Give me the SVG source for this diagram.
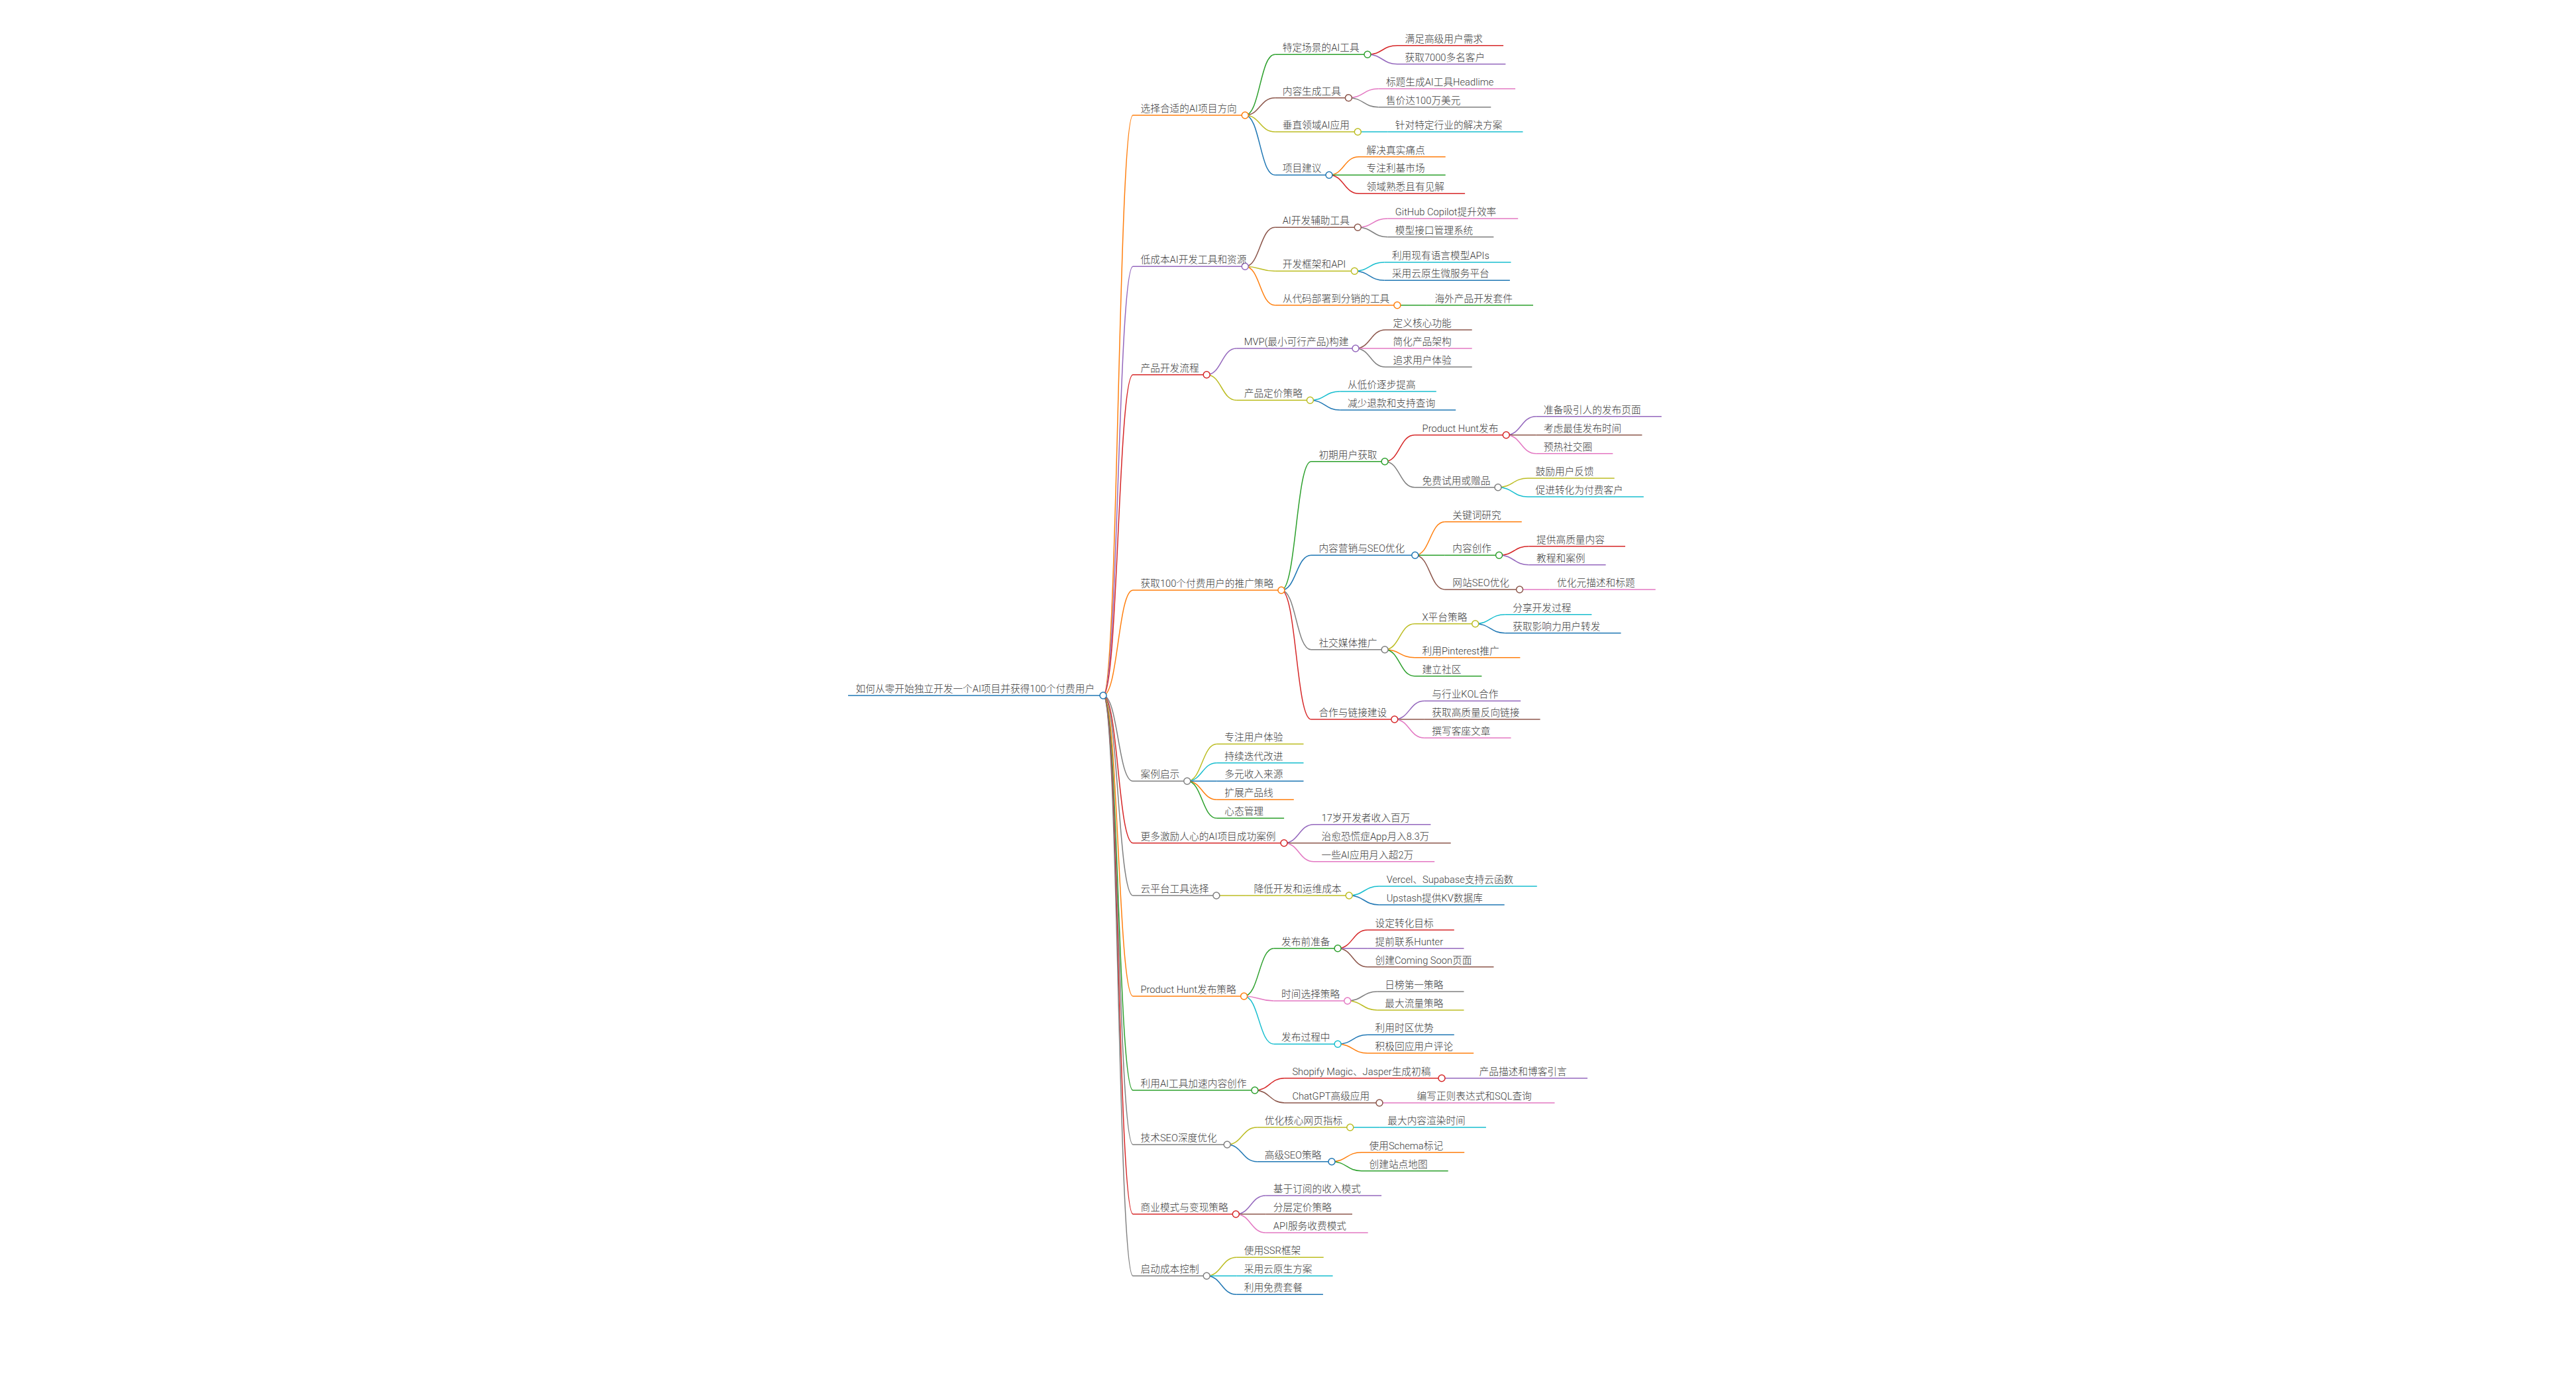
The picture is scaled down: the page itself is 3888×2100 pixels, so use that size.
<svg xmlns="http://www.w3.org/2000/svg" width="3888" height="2100" viewBox="0 0 3888 2100">
<style>
path,line{fill:none;stroke-width:1.5}
circle{fill:#fff;stroke-width:1.5}
text{font-family:"Roboto","Noto Sans CJK SC",sans-serif;font-size:14.7px;fill:#3c3c3c;font-weight:300}
.b{stroke:#1f77b4}.o{stroke:#ff7f0e}.g{stroke:#2ca02c}.r{stroke:#d62728}.p{stroke:#9467bd}
.br{stroke:#8c564b}.pk{stroke:#e377c2}.gy{stroke:#7f7f7f}.ol{stroke:#bcbd22}.c{stroke:#17becf}
</style>
<rect width="3888" height="2100" fill="#fff"/>
<g id="connectors">
<path class="o" d="M1665,1050C1687.5,1050 1687.5,174 1710,174"/>
<path class="p" d="M1665,1050C1687.5,1050 1687.5,402.3 1710,402.3"/>
<path class="r" d="M1665,1050C1687.5,1050 1687.5,565.7 1710,565.7"/>
<path class="o" d="M1665,1050C1687.5,1050 1687.5,891 1710,891"/>
<path class="gy" d="M1665,1050C1687.5,1050 1687.5,1179.3 1710,1179.3"/>
<path class="r" d="M1665,1050C1687.5,1050 1687.5,1272.7 1710,1272.7"/>
<path class="gy" d="M1665,1050C1687.5,1050 1687.5,1352 1710,1352"/>
<path class="o" d="M1665,1050C1687.5,1050 1687.5,1504 1710,1504"/>
<path class="g" d="M1665,1050C1687.5,1050 1687.5,1646 1710,1646"/>
<path class="gy" d="M1665,1050C1687.5,1050 1687.5,1728 1710,1728"/>
<path class="r" d="M1665,1050C1687.5,1050 1687.5,1833 1710,1833"/>
<path class="gy" d="M1665,1050C1687.5,1050 1687.5,1926.3 1710,1926.3"/>

<path class="g" d="M1879.2,174C1901.7,174 1901.7,82.3 1924.2,82.3"/>
<path class="br" d="M1879.2,174C1901.7,174 1901.7,147.7 1924.2,147.7"/>
<path class="ol" d="M1879.2,174C1901.7,174 1901.7,199 1924.2,199"/>
<path class="b" d="M1879.2,174C1901.7,174 1901.7,264.3 1924.2,264.3"/>
<path class="r" d="M2064,82.3C2086.5,82.3 2086.5,68.7 2109,68.7"/>
<path class="p" d="M2064,82.3C2086.5,82.3 2086.5,96.7 2109,96.7"/>
<path class="pk" d="M2035.4,147.7C2057.9,147.7 2057.9,134 2080.4,134"/>
<path class="gy" d="M2035.4,147.7C2057.9,147.7 2057.9,161.7 2080.4,161.7"/>
<path class="c" d="M2049.3,199L2094.3,199"/>
<path class="o" d="M2006,264.3C2028.5,264.3 2028.5,236.7 2051,236.7"/>
<path class="g" d="M2006,264.3L2051,264.3"/>
<path class="r" d="M2006,264.3C2028.5,264.3 2028.5,292.3 2051,292.3"/>

<path class="br" d="M1879.2,402.3C1901.7,402.3 1901.7,343.3 1924.2,343.3"/>
<path class="ol" d="M1879.2,402.3C1901.7,402.3 1901.7,409.3 1924.2,409.3"/>
<path class="o" d="M1879.2,402.3C1901.7,402.3 1901.7,460.7 1924.2,460.7"/>
<path class="pk" d="M2049.3,343.3C2071.8,343.3 2071.8,330 2094.3,330"/>
<path class="gy" d="M2049.3,343.3C2071.8,343.3 2071.8,357.7 2094.3,357.7"/>
<path class="c" d="M2044.4,409.3C2066.9,409.3 2066.9,396 2089.4,396"/>
<path class="b" d="M2044.4,409.3C2066.9,409.3 2066.9,423.3 2089.4,423.3"/>
<path class="g" d="M2108.9,460.7L2153.9,460.7"/>

<path class="p" d="M1821.2,565.7C1843.7,565.7 1843.7,526 1866.2,526"/>
<path class="ol" d="M1821.2,565.7C1843.7,565.7 1843.7,604.3 1866.2,604.3"/>
<path class="br" d="M2046,526C2068.5,526 2068.5,498 2091,498"/>
<path class="pk" d="M2046,526L2091,526"/>
<path class="gy" d="M2046,526C2068.5,526 2068.5,554 2091,554"/>
<path class="c" d="M1977.4,604.3C1999.9,604.3 1999.9,591 2022.4,591"/>
<path class="b" d="M1977.4,604.3C1999.9,604.3 1999.9,619 2022.4,619"/>

<path class="g" d="M1933.9,891C1956.4,891 1956.4,696.7 1978.9,696.7"/>
<path class="b" d="M1933.9,891C1956.4,891 1956.4,838.3 1978.9,838.3"/>
<path class="gy" d="M1933.9,891C1956.4,891 1956.4,980.7 1978.9,980.7"/>
<path class="r" d="M1933.9,891C1956.4,891 1956.4,1086 1978.9,1086"/>
<path class="r" d="M2090.1,696.7C2112.6,696.7 2112.6,656.7 2135.1,656.7"/>
<path class="gy" d="M2090.1,696.7C2112.6,696.7 2112.6,735.7 2135.1,735.7"/>
<path class="p" d="M2273.3,656.7C2295.8,656.7 2295.8,628.7 2318.3,628.7"/>
<path class="br" d="M2273.3,656.7L2318.3,656.7"/>
<path class="pk" d="M2273.3,656.7C2295.8,656.7 2295.8,684.7 2318.3,684.7"/>
<path class="ol" d="M2261,735.7C2283.5,735.7 2283.5,722 2306,722"/>
<path class="c" d="M2261,735.7C2283.5,735.7 2283.5,750 2306,750"/>
<path class="o" d="M2135.8,838.3C2158.3,838.3 2158.3,787.7 2180.8,787.7"/>
<path class="g" d="M2135.8,838.3L2180.8,838.3"/>
<path class="br" d="M2135.8,838.3C2158.3,838.3 2158.3,890 2180.8,890"/>
<path class="r" d="M2262.6,838.3C2285.1,838.3 2285.1,824.7 2307.6,824.7"/>
<path class="p" d="M2262.6,838.3C2285.1,838.3 2285.1,852.7 2307.6,852.7"/>
<path class="pk" d="M2293.6,890L2338.6,890"/>
<path class="ol" d="M2090.1,980.7C2112.6,980.7 2112.6,941.7 2135.1,941.7"/>
<path class="o" d="M2090.1,980.7C2112.6,980.7 2112.6,992.7 2135.1,992.7"/>
<path class="g" d="M2090.1,980.7C2112.6,980.7 2112.6,1020.7 2135.1,1020.7"/>
<path class="c" d="M2226.7,941.7C2249.2,941.7 2249.2,927.7 2271.7,927.7"/>
<path class="b" d="M2226.7,941.7C2249.2,941.7 2249.2,955.7 2271.7,955.7"/>
<path class="p" d="M2104.8,1086C2127.3,1086 2127.3,1058.3 2149.8,1058.3"/>
<path class="br" d="M2104.8,1086L2149.8,1086"/>
<path class="pk" d="M2104.8,1086C2127.3,1086 2127.3,1114 2149.8,1114"/>

<path class="ol" d="M1791.8,1179.3C1814.3,1179.3 1814.3,1123.3 1836.8,1123.3"/>
<path class="c" d="M1791.8,1179.3C1814.3,1179.3 1814.3,1151.7 1836.8,1151.7"/>
<path class="b" d="M1791.8,1179.3L1836.8,1179.3"/>
<path class="o" d="M1791.8,1179.3C1814.3,1179.3 1814.3,1207.3 1836.8,1207.3"/>
<path class="g" d="M1791.8,1179.3C1814.3,1179.3 1814.3,1235.3 1836.8,1235.3"/>

<path class="p" d="M1938,1272.7C1960.5,1272.7 1960.5,1244.7 1983,1244.7"/>
<path class="br" d="M1938,1272.7L1983,1272.7"/>
<path class="pk" d="M1938,1272.7C1960.5,1272.7 1960.5,1300.7 1983,1300.7"/>

<path class="ol" d="M1835.9,1352L1880.9,1352"/>
<path class="c" d="M2036.2,1352C2058.7,1352 2058.7,1338 2081.2,1338"/>
<path class="b" d="M2036.2,1352C2058.7,1352 2058.7,1366 2081.2,1366"/>

<path class="g" d="M1877.6,1504C1900.1,1504 1900.1,1431.7 1922.6,1431.7"/>
<path class="pk" d="M1877.6,1504C1900.1,1504 1900.1,1511 1922.6,1511"/>
<path class="c" d="M1877.6,1504C1900.1,1504 1900.1,1576.3 1922.6,1576.3"/>
<path class="r" d="M2019.1,1431.7C2041.6,1431.7 2041.6,1404 2064.1,1404"/>
<path class="p" d="M2019.1,1431.7L2064.1,1431.7"/>
<path class="br" d="M2019.1,1431.7C2041.6,1431.7 2041.6,1459.7 2064.1,1459.7"/>
<path class="gy" d="M2033.8,1511C2056.3,1511 2056.3,1497 2078.8,1497"/>
<path class="ol" d="M2033.8,1511C2056.3,1511 2056.3,1525 2078.8,1525"/>
<path class="b" d="M2019.1,1576.3C2041.6,1576.3 2041.6,1562.3 2064.1,1562.3"/>
<path class="o" d="M2019.1,1576.3C2041.6,1576.3 2041.6,1590 2064.1,1590"/>

<path class="r" d="M1893.9,1646C1916.4,1646 1916.4,1627.7 1938.9,1627.7"/>
<path class="br" d="M1893.9,1646C1916.4,1646 1916.4,1665 1938.9,1665"/>
<path class="p" d="M2176,1627.7L2221,1627.7"/>
<path class="pk" d="M2082,1665L2127,1665"/>

<path class="ol" d="M1852.2,1728C1874.7,1728 1874.7,1702 1897.2,1702"/>
<path class="b" d="M1852.2,1728C1874.7,1728 1874.7,1753.7 1897.2,1753.7"/>
<path class="c" d="M2037.8,1702L2082.8,1702"/>
<path class="o" d="M2010,1753.7C2032.5,1753.7 2032.5,1739.7 2055,1739.7"/>
<path class="g" d="M2010,1753.7C2032.5,1753.7 2032.5,1767.7 2055,1767.7"/>

<path class="p" d="M1865.3,1833C1887.8,1833 1887.8,1805 1910.3,1805"/>
<path class="br" d="M1865.3,1833L1910.3,1833"/>
<path class="pk" d="M1865.3,1833C1887.8,1833 1887.8,1861 1910.3,1861"/>

<path class="ol" d="M1821.2,1926.3C1843.7,1926.3 1843.7,1898.3 1866.2,1898.3"/>
<path class="c" d="M1821.2,1926.3L1866.2,1926.3"/>
<path class="b" d="M1821.2,1926.3C1843.7,1926.3 1843.7,1954.3 1866.2,1954.3"/>
</g>

<g id="root"><line class="b" x1="1280" y1="1050" x2="1665" y2="1050"/><circle class="b" cx="1665" cy="1050" r="5"/><text x="1291.5" y="1045">如何从零开始独立开发一个AI项目并获得100个付费用户</text></g>

<g id="n1"><line class="o" x1="1710" y1="174" x2="1879.2" y2="174"/><circle class="o" cx="1879.2" cy="174" r="5"/><text x="1721.5" y="169">选择合适的AI项目方向</text></g>
<g id="n1a"><line class="g" x1="1924.2" y1="82.3" x2="2064" y2="82.3"/><circle class="g" cx="2064" cy="82.3" r="5"/><text x="1935.7" y="77.3">特定场景的AI工具</text></g>
<g id="n1a1"><line class="r" x1="2109" y1="68.7" x2="2269.1" y2="68.7"/><text x="2120.5" y="63.7">满足高级用户需求</text></g>
<g id="n1a2"><line class="p" x1="2109" y1="96.7" x2="2272.4" y2="96.7"/><text x="2120.5" y="91.7">获取7000多名客户</text></g>
<g id="n1b"><line class="br" x1="1924.2" y1="147.7" x2="2035.4" y2="147.7"/><circle class="br" cx="2035.4" cy="147.7" r="5"/><text x="1935.7" y="142.7">内容生成工具</text></g>
<g id="n1b1"><line class="pk" x1="2080.4" y1="134" x2="2287.1" y2="134"/><text x="2091.9" y="129">标题生成AI工具Headlime</text></g>
<g id="n1b2"><line class="gy" x1="2080.4" y1="161.7" x2="2250.3" y2="161.7"/><text x="2091.9" y="156.7">售价达100万美元</text></g>
<g id="n1c"><line class="ol" x1="1924.2" y1="199" x2="2049.3" y2="199"/><circle class="ol" cx="2049.3" cy="199" r="5"/><text x="1935.7" y="194">垂直领域AI应用</text></g>
<g id="n1c1"><line class="c" x1="2094.3" y1="199" x2="2298.5" y2="199"/><text x="2105.8" y="194">针对特定行业的解决方案</text></g>
<g id="n1d"><line class="b" x1="1924.2" y1="264.3" x2="2006" y2="264.3"/><circle class="b" cx="2006" cy="264.3" r="5"/><text x="1935.7" y="259.3">项目建议</text></g>
<g id="n1d1"><line class="o" x1="2051" y1="236.7" x2="2181.7" y2="236.7"/><text x="2062.5" y="231.7">解决真实痛点</text></g>
<g id="n1d2"><line class="g" x1="2051" y1="264.3" x2="2181.7" y2="264.3"/><text x="2062.5" y="259.3">专注利基市场</text></g>
<g id="n1d3"><line class="r" x1="2051" y1="292.3" x2="2211.1" y2="292.3"/><text x="2062.5" y="287.3">领域熟悉且有见解</text></g>

<g id="n2"><line class="p" x1="1710" y1="402.3" x2="1879.2" y2="402.3"/><circle class="p" cx="1879.2" cy="402.3" r="5"/><text x="1721.5" y="397.3">低成本AI开发工具和资源</text></g>
<g id="n2a"><line class="br" x1="1924.2" y1="343.3" x2="2049.3" y2="343.3"/><circle class="br" cx="2049.3" cy="343.3" r="5"/><text x="1935.7" y="338.3">AI开发辅助工具</text></g>
<g id="n2a1"><line class="pk" x1="2094.3" y1="330" x2="2291.2" y2="330"/><text x="2105.8" y="325">GitHub Copilot提升效率</text></g>
<g id="n2a2"><line class="gy" x1="2094.3" y1="357.7" x2="2254.4" y2="357.7"/><text x="2105.8" y="352.7">模型接口管理系统</text></g>
<g id="n2b"><line class="ol" x1="1924.2" y1="409.3" x2="2044.4" y2="409.3"/><circle class="ol" cx="2044.4" cy="409.3" r="5"/><text x="1935.7" y="404.3">开发框架和API</text></g>
<g id="n2b1"><line class="c" x1="2089.4" y1="396" x2="2280.5" y2="396"/><text x="2100.9" y="391">利用现有语言模型APIs</text></g>
<g id="n2b2"><line class="b" x1="2089.4" y1="423.3" x2="2278.9" y2="423.3"/><text x="2100.9" y="418.3">采用云原生微服务平台</text></g>
<g id="n2c"><line class="o" x1="1924.2" y1="460.7" x2="2108.9" y2="460.7"/><circle class="o" cx="2108.9" cy="460.7" r="5"/><text x="1935.7" y="455.7">从代码部署到分销的工具</text></g>
<g id="n2c1"><line class="g" x1="2153.9" y1="460.7" x2="2314" y2="460.7"/><text x="2165.4" y="455.7">海外产品开发套件</text></g>

<g id="n3"><line class="r" x1="1710" y1="565.7" x2="1821.2" y2="565.7"/><circle class="r" cx="1821.2" cy="565.7" r="5"/><text x="1721.5" y="560.7">产品开发流程</text></g>
<g id="n3a"><line class="p" x1="1866.2" y1="526" x2="2046" y2="526"/><circle class="p" cx="2046" cy="526" r="5"/><text x="1877.7" y="521">MVP(最小可行产品)构建</text></g>
<g id="n3a1"><line class="br" x1="2091" y1="498" x2="2221.7" y2="498"/><text x="2102.5" y="493">定义核心功能</text></g>
<g id="n3a2"><line class="pk" x1="2091" y1="526" x2="2221.7" y2="526"/><text x="2102.5" y="521">简化产品架构</text></g>
<g id="n3a3"><line class="gy" x1="2091" y1="554" x2="2221.7" y2="554"/><text x="2102.5" y="549">追求用户体验</text></g>
<g id="n3b"><line class="ol" x1="1866.2" y1="604.3" x2="1977.4" y2="604.3"/><circle class="ol" cx="1977.4" cy="604.3" r="5"/><text x="1877.7" y="599.3">产品定价策略</text></g>
<g id="n3b1"><line class="c" x1="2022.4" y1="591" x2="2167.8" y2="591"/><text x="2033.9" y="586">从低价逐步提高</text></g>
<g id="n3b2"><line class="b" x1="2022.4" y1="619" x2="2197.2" y2="619"/><text x="2033.9" y="614">减少退款和支持查询</text></g>

<g id="n4"><line class="o" x1="1710" y1="891" x2="1933.9" y2="891"/><circle class="o" cx="1933.9" cy="891" r="5"/><text x="1721.5" y="886">获取100个付费用户的推广策略</text></g>
<g id="n4a"><line class="g" x1="1978.9" y1="696.7" x2="2090.1" y2="696.7"/><circle class="g" cx="2090.1" cy="696.7" r="5"/><text x="1990.4" y="691.7">初期用户获取</text></g>
<g id="n4a1"><line class="r" x1="2135.1" y1="656.7" x2="2273.3" y2="656.7"/><circle class="r" cx="2273.3" cy="656.7" r="5"/><text x="2146.6" y="651.7">Product Hunt发布</text></g>
<g id="n4a1a"><line class="p" x1="2318.3" y1="628.7" x2="2507.8" y2="628.7"/><text x="2329.8" y="623.7">准备吸引人的发布页面</text></g>
<g id="n4a1b"><line class="br" x1="2318.3" y1="656.7" x2="2478.4" y2="656.7"/><text x="2329.8" y="651.7">考虑最佳发布时间</text></g>
<g id="n4a1c"><line class="pk" x1="2318.3" y1="684.7" x2="2434.3" y2="684.7"/><text x="2329.8" y="679.7">预热社交圈</text></g>
<g id="n4a2"><line class="gy" x1="2135.1" y1="735.7" x2="2261" y2="735.7"/><circle class="gy" cx="2261" cy="735.7" r="5"/><text x="2146.6" y="730.7">免费试用或赠品</text></g>
<g id="n4a2a"><line class="ol" x1="2306" y1="722" x2="2436.7" y2="722"/><text x="2317.5" y="717">鼓励用户反馈</text></g>
<g id="n4a2b"><line class="c" x1="2306" y1="750" x2="2480.8" y2="750"/><text x="2317.5" y="745">促进转化为付费客户</text></g>
<g id="n4b"><line class="b" x1="1978.9" y1="838.3" x2="2135.8" y2="838.3"/><circle class="b" cx="2135.8" cy="838.3" r="5"/><text x="1990.4" y="833.3">内容营销与SEO优化</text></g>
<g id="n4b1"><line class="o" x1="2180.8" y1="787.7" x2="2296.8" y2="787.7"/><text x="2192.3" y="782.7">关键词研究</text></g>
<g id="n4b2"><line class="g" x1="2180.8" y1="838.3" x2="2262.6" y2="838.3"/><circle class="g" cx="2262.6" cy="838.3" r="5"/><text x="2192.3" y="833.3">内容创作</text></g>
<g id="n4b2a"><line class="r" x1="2307.6" y1="824.7" x2="2453" y2="824.7"/><text x="2319.1" y="819.7">提供高质量内容</text></g>
<g id="n4b2b"><line class="p" x1="2307.6" y1="852.7" x2="2423.6" y2="852.7"/><text x="2319.1" y="847.7">教程和案例</text></g>
<g id="n4b3"><line class="br" x1="2180.8" y1="890" x2="2293.6" y2="890"/><circle class="br" cx="2293.6" cy="890" r="5"/><text x="2192.3" y="885">网站SEO优化</text></g>
<g id="n4b3a"><line class="pk" x1="2338.6" y1="890" x2="2498.7" y2="890"/><text x="2350.1" y="885">优化元描述和标题</text></g>
<g id="n4c"><line class="gy" x1="1978.9" y1="980.7" x2="2090.1" y2="980.7"/><circle class="gy" cx="2090.1" cy="980.7" r="5"/><text x="1990.4" y="975.7">社交媒体推广</text></g>
<g id="n4c1"><line class="ol" x1="2135.1" y1="941.7" x2="2226.7" y2="941.7"/><circle class="ol" cx="2226.7" cy="941.7" r="5"/><text x="2146.6" y="936.7">X平台策略</text></g>
<g id="n4c1a"><line class="c" x1="2271.7" y1="927.7" x2="2402.4" y2="927.7"/><text x="2283.2" y="922.7">分享开发过程</text></g>
<g id="n4c1b"><line class="b" x1="2271.7" y1="955.7" x2="2446.5" y2="955.7"/><text x="2283.2" y="950.7">获取影响力用户转发</text></g>
<g id="n4c2"><line class="o" x1="2135.1" y1="992.7" x2="2294.4" y2="992.7"/><text x="2146.6" y="987.7">利用Pinterest推广</text></g>
<g id="n4c3"><line class="g" x1="2135.1" y1="1020.7" x2="2236.4" y2="1020.7"/><text x="2146.6" y="1015.7">建立社区</text></g>
<g id="n4d"><line class="r" x1="1978.9" y1="1086" x2="2104.8" y2="1086"/><circle class="r" cx="2104.8" cy="1086" r="5"/><text x="1990.4" y="1081">合作与链接建设</text></g>
<g id="n4d1"><line class="p" x1="2149.8" y1="1058.3" x2="2295.2" y2="1058.3"/><text x="2161.3" y="1053.3">与行业KOL合作</text></g>
<g id="n4d2"><line class="br" x1="2149.8" y1="1086" x2="2324.6" y2="1086"/><text x="2161.3" y="1081">获取高质量反向链接</text></g>
<g id="n4d3"><line class="pk" x1="2149.8" y1="1114" x2="2280.5" y2="1114"/><text x="2161.3" y="1109">撰写客座文章</text></g>

<g id="n5"><line class="gy" x1="1710" y1="1179.3" x2="1791.8" y2="1179.3"/><circle class="gy" cx="1791.8" cy="1179.3" r="5"/><text x="1721.5" y="1174.3">案例启示</text></g>
<g id="n5a"><line class="ol" x1="1836.8" y1="1123.3" x2="1967.5" y2="1123.3"/><text x="1848.3" y="1118.3">专注用户体验</text></g>
<g id="n5b"><line class="c" x1="1836.8" y1="1151.7" x2="1967.5" y2="1151.7"/><text x="1848.3" y="1146.7">持续迭代改进</text></g>
<g id="n5c"><line class="b" x1="1836.8" y1="1179.3" x2="1967.5" y2="1179.3"/><text x="1848.3" y="1174.3">多元收入来源</text></g>
<g id="n5d"><line class="o" x1="1836.8" y1="1207.3" x2="1952.8" y2="1207.3"/><text x="1848.3" y="1202.3">扩展产品线</text></g>
<g id="n5e"><line class="g" x1="1836.8" y1="1235.3" x2="1938.1" y2="1235.3"/><text x="1848.3" y="1230.3">心态管理</text></g>

<g id="n6"><line class="r" x1="1710" y1="1272.7" x2="1938" y2="1272.7"/><circle class="r" cx="1938" cy="1272.7" r="5"/><text x="1721.5" y="1267.7">更多激励人心的AI项目成功案例</text></g>
<g id="n6a"><line class="p" x1="1983" y1="1244.7" x2="2159.4" y2="1244.7"/><text x="1994.5" y="1239.7">17岁开发者收入百万</text></g>
<g id="n6b"><line class="br" x1="1983" y1="1272.7" x2="2189.7" y2="1272.7"/><text x="1994.5" y="1267.7">治愈恐慌症App月入8.3万</text></g>
<g id="n6c"><line class="pk" x1="1983" y1="1300.7" x2="2165.2" y2="1300.7"/><text x="1994.5" y="1295.7">一些AI应用月入超2万</text></g>

<g id="n7"><line class="gy" x1="1710" y1="1352" x2="1835.9" y2="1352"/><circle class="gy" cx="1835.9" cy="1352" r="5"/><text x="1721.5" y="1347">云平台工具选择</text></g>
<g id="n7a"><line class="ol" x1="1880.9" y1="1352" x2="2036.2" y2="1352"/><circle class="ol" cx="2036.2" cy="1352" r="5"/><text x="1892.4" y="1347">降低开发和运维成本</text></g>
<g id="n7a1"><line class="c" x1="2081.2" y1="1338" x2="2319.8" y2="1338"/><text x="2092.7" y="1333">Vercel、Supabase支持云函数</text></g>
<g id="n7a2"><line class="b" x1="2081.2" y1="1366" x2="2270.7" y2="1366"/><text x="2092.7" y="1361">Upstash提供KV数据库</text></g>

<g id="n8"><line class="o" x1="1710" y1="1504" x2="1877.6" y2="1504"/><circle class="o" cx="1877.6" cy="1504" r="5"/><text x="1721.5" y="1499">Product Hunt发布策略</text></g>
<g id="n8a"><line class="g" x1="1922.6" y1="1431.7" x2="2019.1" y2="1431.7"/><circle class="g" cx="2019.1" cy="1431.7" r="5"/><text x="1934.1" y="1426.7">发布前准备</text></g>
<g id="n8a1"><line class="r" x1="2064.1" y1="1404" x2="2194.8" y2="1404"/><text x="2075.6" y="1399">设定转化目标</text></g>
<g id="n8a2"><line class="p" x1="2064.1" y1="1431.7" x2="2209.5" y2="1431.7"/><text x="2075.6" y="1426.7">提前联系Hunter</text></g>
<g id="n8a3"><line class="br" x1="2064.1" y1="1459.7" x2="2254.5" y2="1459.7"/><text x="2075.6" y="1454.7">创建Coming Soon页面</text></g>
<g id="n8b"><line class="pk" x1="1922.6" y1="1511" x2="2033.8" y2="1511"/><circle class="pk" cx="2033.8" cy="1511" r="5"/><text x="1934.1" y="1506">时间选择策略</text></g>
<g id="n8b1"><line class="gy" x1="2078.8" y1="1497" x2="2209.5" y2="1497"/><text x="2090.3" y="1492">日榜第一策略</text></g>
<g id="n8b2"><line class="ol" x1="2078.8" y1="1525" x2="2209.5" y2="1525"/><text x="2090.3" y="1520">最大流量策略</text></g>
<g id="n8c"><line class="c" x1="1922.6" y1="1576.3" x2="2019.1" y2="1576.3"/><circle class="c" cx="2019.1" cy="1576.3" r="5"/><text x="1934.1" y="1571.3">发布过程中</text></g>
<g id="n8c1"><line class="b" x1="2064.1" y1="1562.3" x2="2194.8" y2="1562.3"/><text x="2075.6" y="1557.3">利用时区优势</text></g>
<g id="n8c2"><line class="o" x1="2064.1" y1="1590" x2="2224.2" y2="1590"/><text x="2075.6" y="1585">积极回应用户评论</text></g>

<g id="n9"><line class="g" x1="1710" y1="1646" x2="1893.9" y2="1646"/><circle class="g" cx="1893.9" cy="1646" r="5"/><text x="1721.5" y="1641">利用AI工具加速内容创作</text></g>
<g id="n9a"><line class="r" x1="1938.9" y1="1627.7" x2="2176" y2="1627.7"/><circle class="r" cx="2176" cy="1627.7" r="5"/><text x="1950.4" y="1622.7">Shopify Magic、Jasper生成初稿</text></g>
<g id="n9a1"><line class="p" x1="2221" y1="1627.7" x2="2396" y2="1627.7"/><text x="2232.5" y="1622.7">产品描述和博客引言</text></g>
<g id="n9b"><line class="br" x1="1938.9" y1="1665" x2="2082" y2="1665"/><circle class="br" cx="2082" cy="1665" r="5"/><text x="1950.4" y="1660">ChatGPT高级应用</text></g>
<g id="n9b1"><line class="pk" x1="2127" y1="1665" x2="2346.5" y2="1665"/><text x="2138.5" y="1660">编写正则表达式和SQL查询</text></g>

<g id="n10"><line class="gy" x1="1710" y1="1728" x2="1852.2" y2="1728"/><circle class="gy" cx="1852.2" cy="1728" r="5"/><text x="1721.5" y="1723">技术SEO深度优化</text></g>
<g id="n10a"><line class="ol" x1="1897.2" y1="1702" x2="2037.8" y2="1702"/><circle class="ol" cx="2037.8" cy="1702" r="5"/><text x="1908.7" y="1697">优化核心网页指标</text></g>
<g id="n10a1"><line class="c" x1="2082.8" y1="1702" x2="2242.9" y2="1702"/><text x="2094.3" y="1697">最大内容渲染时间</text></g>
<g id="n10b"><line class="b" x1="1897.2" y1="1753.7" x2="2010" y2="1753.7"/><circle class="b" cx="2010" cy="1753.7" r="5"/><text x="1908.7" y="1748.7">高级SEO策略</text></g>
<g id="n10b1"><line class="o" x1="2055" y1="1739.7" x2="2210.2" y2="1739.7"/><text x="2066.5" y="1734.7">使用Schema标记</text></g>
<g id="n10b2"><line class="g" x1="2055" y1="1767.7" x2="2185.7" y2="1767.7"/><text x="2066.5" y="1762.7">创建站点地图</text></g>

<g id="n11"><line class="r" x1="1710" y1="1833" x2="1865.3" y2="1833"/><circle class="r" cx="1865.3" cy="1833" r="5"/><text x="1721.5" y="1828">商业模式与变现策略</text></g>
<g id="n11a"><line class="p" x1="1910.3" y1="1805" x2="2085.1" y2="1805"/><text x="1921.8" y="1800">基于订阅的收入模式</text></g>
<g id="n11b"><line class="br" x1="1910.3" y1="1833" x2="2041" y2="1833"/><text x="1921.8" y="1828">分层定价策略</text></g>
<g id="n11c"><line class="pk" x1="1910.3" y1="1861" x2="2064.7" y2="1861"/><text x="1921.8" y="1856">API服务收费模式</text></g>

<g id="n12"><line class="gy" x1="1710" y1="1926.3" x2="1821.2" y2="1926.3"/><circle class="gy" cx="1821.2" cy="1926.3" r="5"/><text x="1721.5" y="1921.3">启动成本控制</text></g>
<g id="n12a"><line class="ol" x1="1866.2" y1="1898.3" x2="1997.7" y2="1898.3"/><text x="1877.7" y="1893.3">使用SSR框架</text></g>
<g id="n12b"><line class="c" x1="1866.2" y1="1926.3" x2="2011.6" y2="1926.3"/><text x="1877.7" y="1921.3">采用云原生方案</text></g>
<g id="n12c"><line class="b" x1="1866.2" y1="1954.3" x2="1996.9" y2="1954.3"/><text x="1877.7" y="1949.3">利用免费套餐</text></g>
</svg>
